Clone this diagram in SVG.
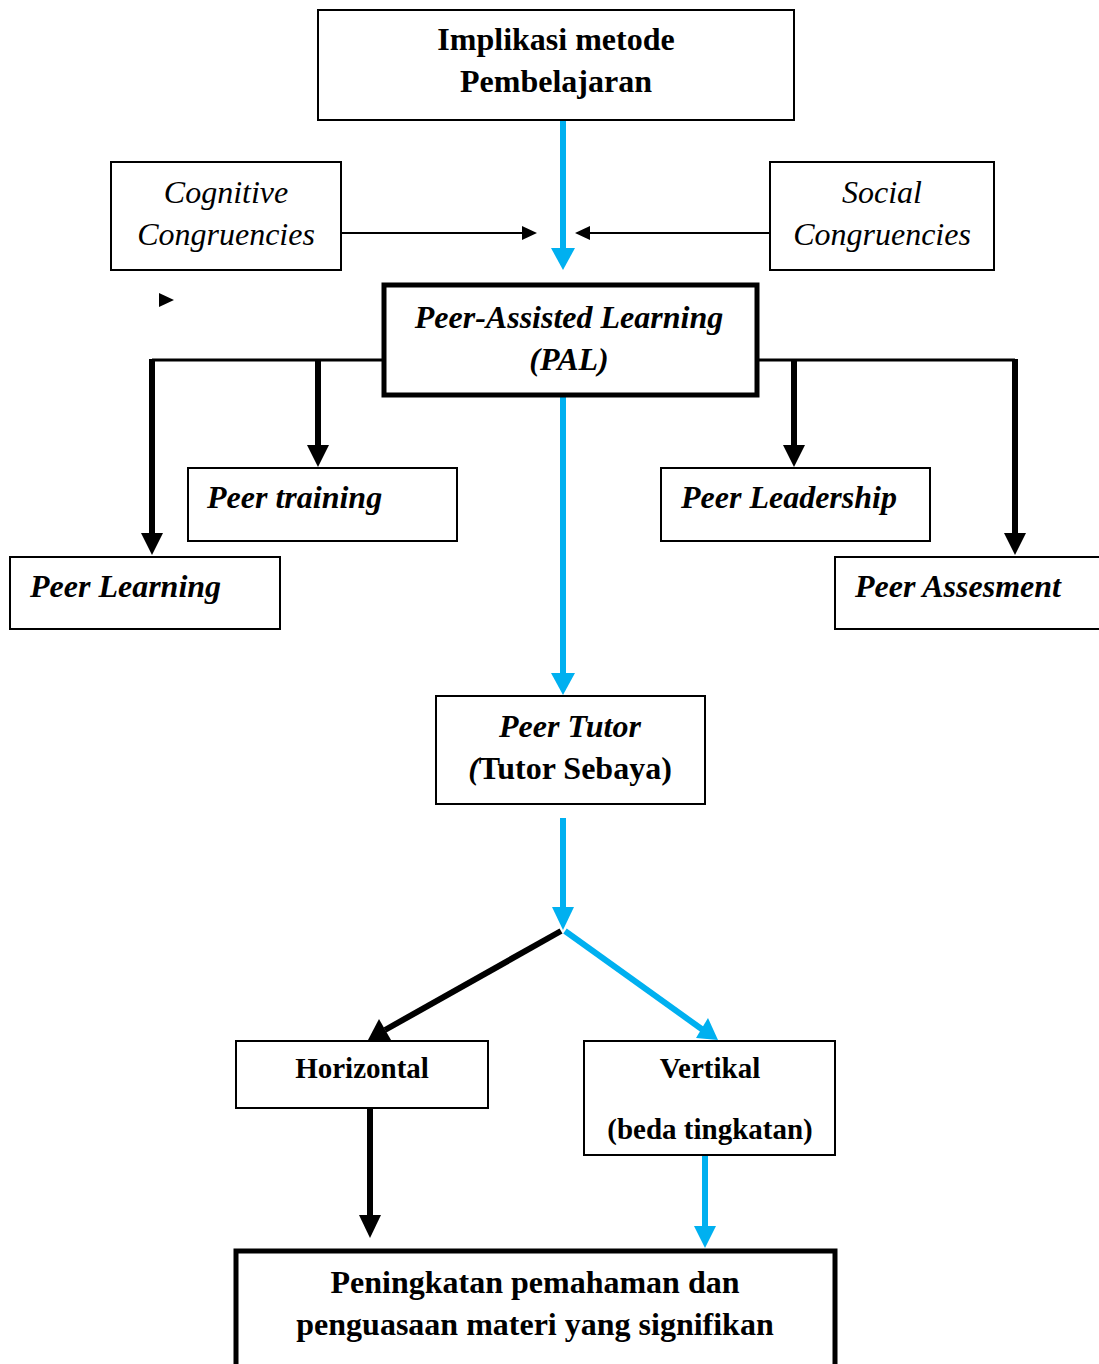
<svg xmlns="http://www.w3.org/2000/svg" width="1099" height="1364" viewBox="0 0 1099 1364">
<style>
.box{fill:#fff;stroke:#000;stroke-width:2}
.thick{fill:#fff;stroke:#000;stroke-width:5}
.t{font-family:"Liberation Serif","Times New Roman",serif;font-size:32px;fill:#000}
.s{font-size:29px}
.b{font-weight:bold}
.i{font-style:italic}
.c{text-anchor:middle}
.blue{stroke:#00B0F0;stroke-width:6;fill:none}
.blk{stroke:#000;stroke-width:6;fill:none}
.thin{stroke:#000;stroke-width:2;fill:none}
.mid{stroke:#000;stroke-width:3;fill:none}
.bh{fill:#00B0F0}
.kh{fill:#000}
</style>
<rect width="1099" height="1364" fill="#fff"/>
<g id="connectors">
<line class="blue" x1="563" y1="120" x2="563" y2="250"/>
<polygon class="bh" points="551,248 575,248 563,270"/>
<line class="thin" x1="341" y1="233" x2="522" y2="233"/>
<polygon class="kh" points="522,226 537,233 522,240"/>
<line class="thin" x1="770" y1="233" x2="590" y2="233"/>
<polygon class="kh" points="590,226 575,233 590,240"/>
<polygon class="kh" points="159,293 174,300 159,307"/>
<polyline class="mid" points="383,360 152,360"/>
<line class="blk" x1="152" y1="359" x2="152" y2="535"/>
<polygon class="kh" points="141,533 163,533 152,555"/>
<line class="blk" x1="318" y1="360" x2="318" y2="447"/>
<polygon class="kh" points="307,445 329,445 318,467"/>
<polyline class="mid" points="758,360 1015,360"/>
<line class="blk" x1="1015" y1="359" x2="1015" y2="535"/>
<polygon class="kh" points="1004,533 1026,533 1015,555"/>
<line class="blk" x1="794" y1="360" x2="794" y2="447"/>
<polygon class="kh" points="783,445 805,445 794,467"/>
<line class="blue" x1="563" y1="395" x2="563" y2="675"/>
<polygon class="bh" points="551,673 575,673 563,695"/>
<line class="blue" x1="563" y1="818" x2="563" y2="910"/>
<polygon class="bh" points="552,907 574,907 563,930"/>
<line class="blk" x1="561" y1="931" x2="385" y2="1030"/>
<polygon class="kh" points="368,1040 379,1019 391,1040"/>
<line class="blue" x1="565" y1="931" x2="703" y2="1030"/>
<polygon class="bh" points="718,1040 696,1038 708,1018"/>
<line class="blk" x1="370" y1="1108" x2="370" y2="1218"/>
<polygon class="kh" points="359,1215 381,1215 370,1238"/>
<line class="blue" x1="705" y1="1155" x2="705" y2="1228"/>
<polygon class="bh" points="694,1226 716,1226 705,1248"/>
</g>
<g id="n-implikasi">
<rect class="box" x="318" y="10" width="476" height="110"/>
<text class="t b c" x="556" y="50">Implikasi metode</text>
<text class="t b c" x="556" y="92">Pembelajaran</text>
</g>
<g id="n-cognitive">
<rect class="box" x="111" y="162" width="230" height="108"/>
<text class="t i c" x="226" y="203">Cognitive</text>
<text class="t i c" x="226" y="245">Congruencies</text>
</g>
<g id="n-social">
<rect class="box" x="770" y="162" width="224" height="108"/>
<text class="t i c" x="882" y="203">Social</text>
<text class="t i c" x="882" y="245">Congruencies</text>
</g>
<g id="n-pal">
<rect class="thick" x="384" y="285" width="373" height="110"/>
<text class="t b i c" x="569" y="328">Peer-Assisted Learning</text>
<text class="t b i c" x="569" y="370">(PAL)</text>
</g>
<g id="n-training">
<rect class="box" x="188" y="468" width="269" height="73"/>
<text class="t b i" x="207" y="508">Peer training</text>
</g>
<g id="n-learning">
<rect class="box" x="10" y="557" width="270" height="72"/>
<text class="t b i" x="30" y="597">Peer Learning</text>
</g>
<g id="n-leadership">
<rect class="box" x="661" y="468" width="269" height="73"/>
<text class="t b i" x="681" y="508">Peer Leadership</text>
</g>
<g id="n-assesment">
<rect class="box" x="835" y="557" width="270" height="72"/>
<text class="t b i" x="855" y="597">Peer Assesment</text>
</g>
<g id="n-tutor">
<rect class="box" x="436" y="696" width="269" height="108"/>
<text class="t b i c" x="570" y="737">Peer Tutor</text>
<text class="t b c" x="570" y="779"><tspan class="i">(</tspan>Tutor Sebaya)</text>
</g>
<g id="n-horizontal">
<rect class="box" x="236" y="1041" width="252" height="67"/>
<text class="t s b c" x="362" y="1078">Horizontal</text>
</g>
<g id="n-vertikal">
<rect class="box" x="584" y="1041" width="251" height="114"/>
<text class="t s b c" x="710" y="1078">Vertikal</text>
<text class="t s b c" x="710" y="1139">(beda tingkatan)</text>
</g>
<g id="n-result">
<rect class="thick" x="236" y="1251" width="599" height="125"/>
<text class="t b c" x="535" y="1293">Peningkatan pemahaman dan</text>
<text class="t b c" x="535" y="1335">penguasaan materi yang signifikan</text>
</g>
</svg>
